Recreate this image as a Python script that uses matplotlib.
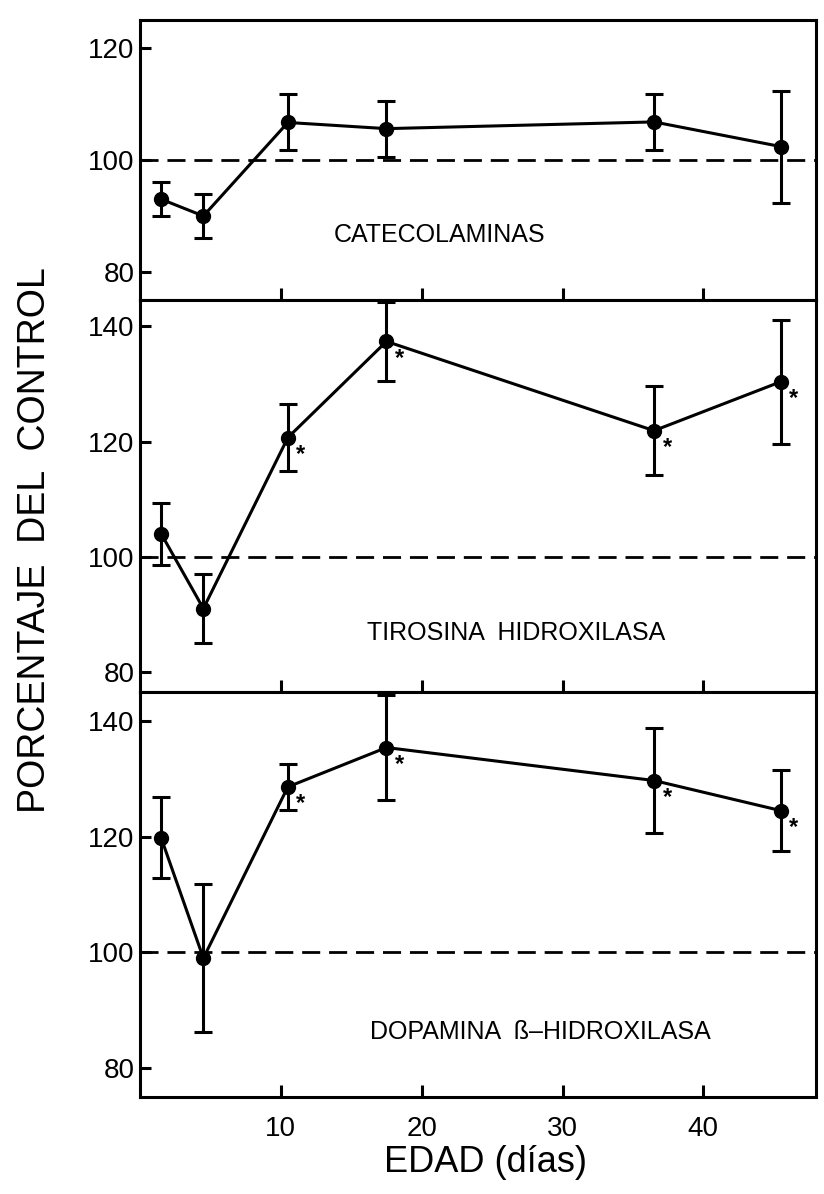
"""Porcentaje del control vs edad: catecolaminas, TH y DBH."""

import matplotlib
matplotlib.use("Agg")
import matplotlib.pyplot as plt

plt.rcParams["font.family"] = ["Liberation Sans", "DejaVu Sans"]

# edad (días) de cada punto, comun a los tres paneles
edad = [1.5, 4.5, 10.5, 17.5, 36.5, 45.5]

cate_val = [93.0, 90.0, 106.7, 105.6, 106.8, 102.4]
cate_err = [3.0, 4.0, 5.0, 5.0, 5.0, 10.0]

tiro_val = [104.0, 91.0, 120.7, 137.4, 121.9, 130.4]
tiro_err = [5.4, 6.0, 5.8, 6.9, 7.7, 10.8]

dopa_val = [119.8, 99.0, 128.6, 135.4, 129.7, 124.5]
dopa_err = [7.0, 12.8, 4.0, 9.0, 9.0, 7.0]

# puntos con diferencia significativa (asterisco)
tiro_sig = [2, 3, 4, 5]
dopa_sig = [2, 3, 4, 5]

paneles = [
    ("CATECOLAMINAS", cate_val, cate_err, [], (75, 125), [80, 100, 120], (21.3, 86.6)),
    ("TIROSINA  HIDROXILASA", tiro_val, tiro_err, tiro_sig, (76.5, 144.6), [80, 100, 120, 140], (26.7, 86.7)),
    ("DOPAMINA  ß–HIDROXILASA", dopa_val, dopa_err, dopa_sig, (75, 145), [80, 100, 120, 140], (28.4, 86.3)),
]

W, H = 824, 1194
fig = plt.figure(figsize=(W / 100, H / 100), dpi=100)

# limites verticales de cada panel en pixeles (arriba, abajo)
bordes = [(20, 300), (300, 692), (692, 1097)]
left, right = 140, 816

lw = 2.2
for (nombre, val, err, sig, ylim, yticks, txt), (top, bot) in zip(paneles, bordes):
    ax = fig.add_axes([left / W, 1 - bot / H, (right - left) / W, (bot - top) / H])
    ax.axhline(100, color="black", lw=2.0, linestyle=(0, (6.5, 3.2)), zorder=1)
    ax.errorbar(edad, val, yerr=err, color="black", lw=lw, marker="o",
                markersize=10, capsize=6.5, capthick=lw, elinewidth=lw, zorder=3)
    for i in sig:
        ax.annotate("*", (edad[i], val[i]), xytext=(13, -17), textcoords="offset pixels",
                    ha="center", va="center", fontsize=17, fontweight="bold")
    ax.text(txt[0], txt[1], nombre, ha="center", va="center", fontsize=18)
    ax.set_xlim(0, 48)
    ax.set_ylim(*ylim)
    ax.set_yticks(yticks)
    ax.set_xticks([10, 20, 30, 40])
    ax.tick_params(direction="in", length=8, width=lw, labelsize=20, pad=4)
    ax.tick_params(axis="x", length=9, pad=14, labelsize=20)
    for s in ax.spines.values():
        s.set_linewidth(lw)
    if bot != bordes[-1][1]:
        ax.set_xticklabels([])

fig.text(35 / W, 1 - 540 / H, "PORCENTAJE  DEL  CONTROL", rotation=90,
         ha="center", va="center", fontsize=27)
fig.text(485 / W, 1 - 1163 / H, "EDAD (días)", ha="center", va="center", fontsize=26)

fig.savefig("out.png", dpi=100)
